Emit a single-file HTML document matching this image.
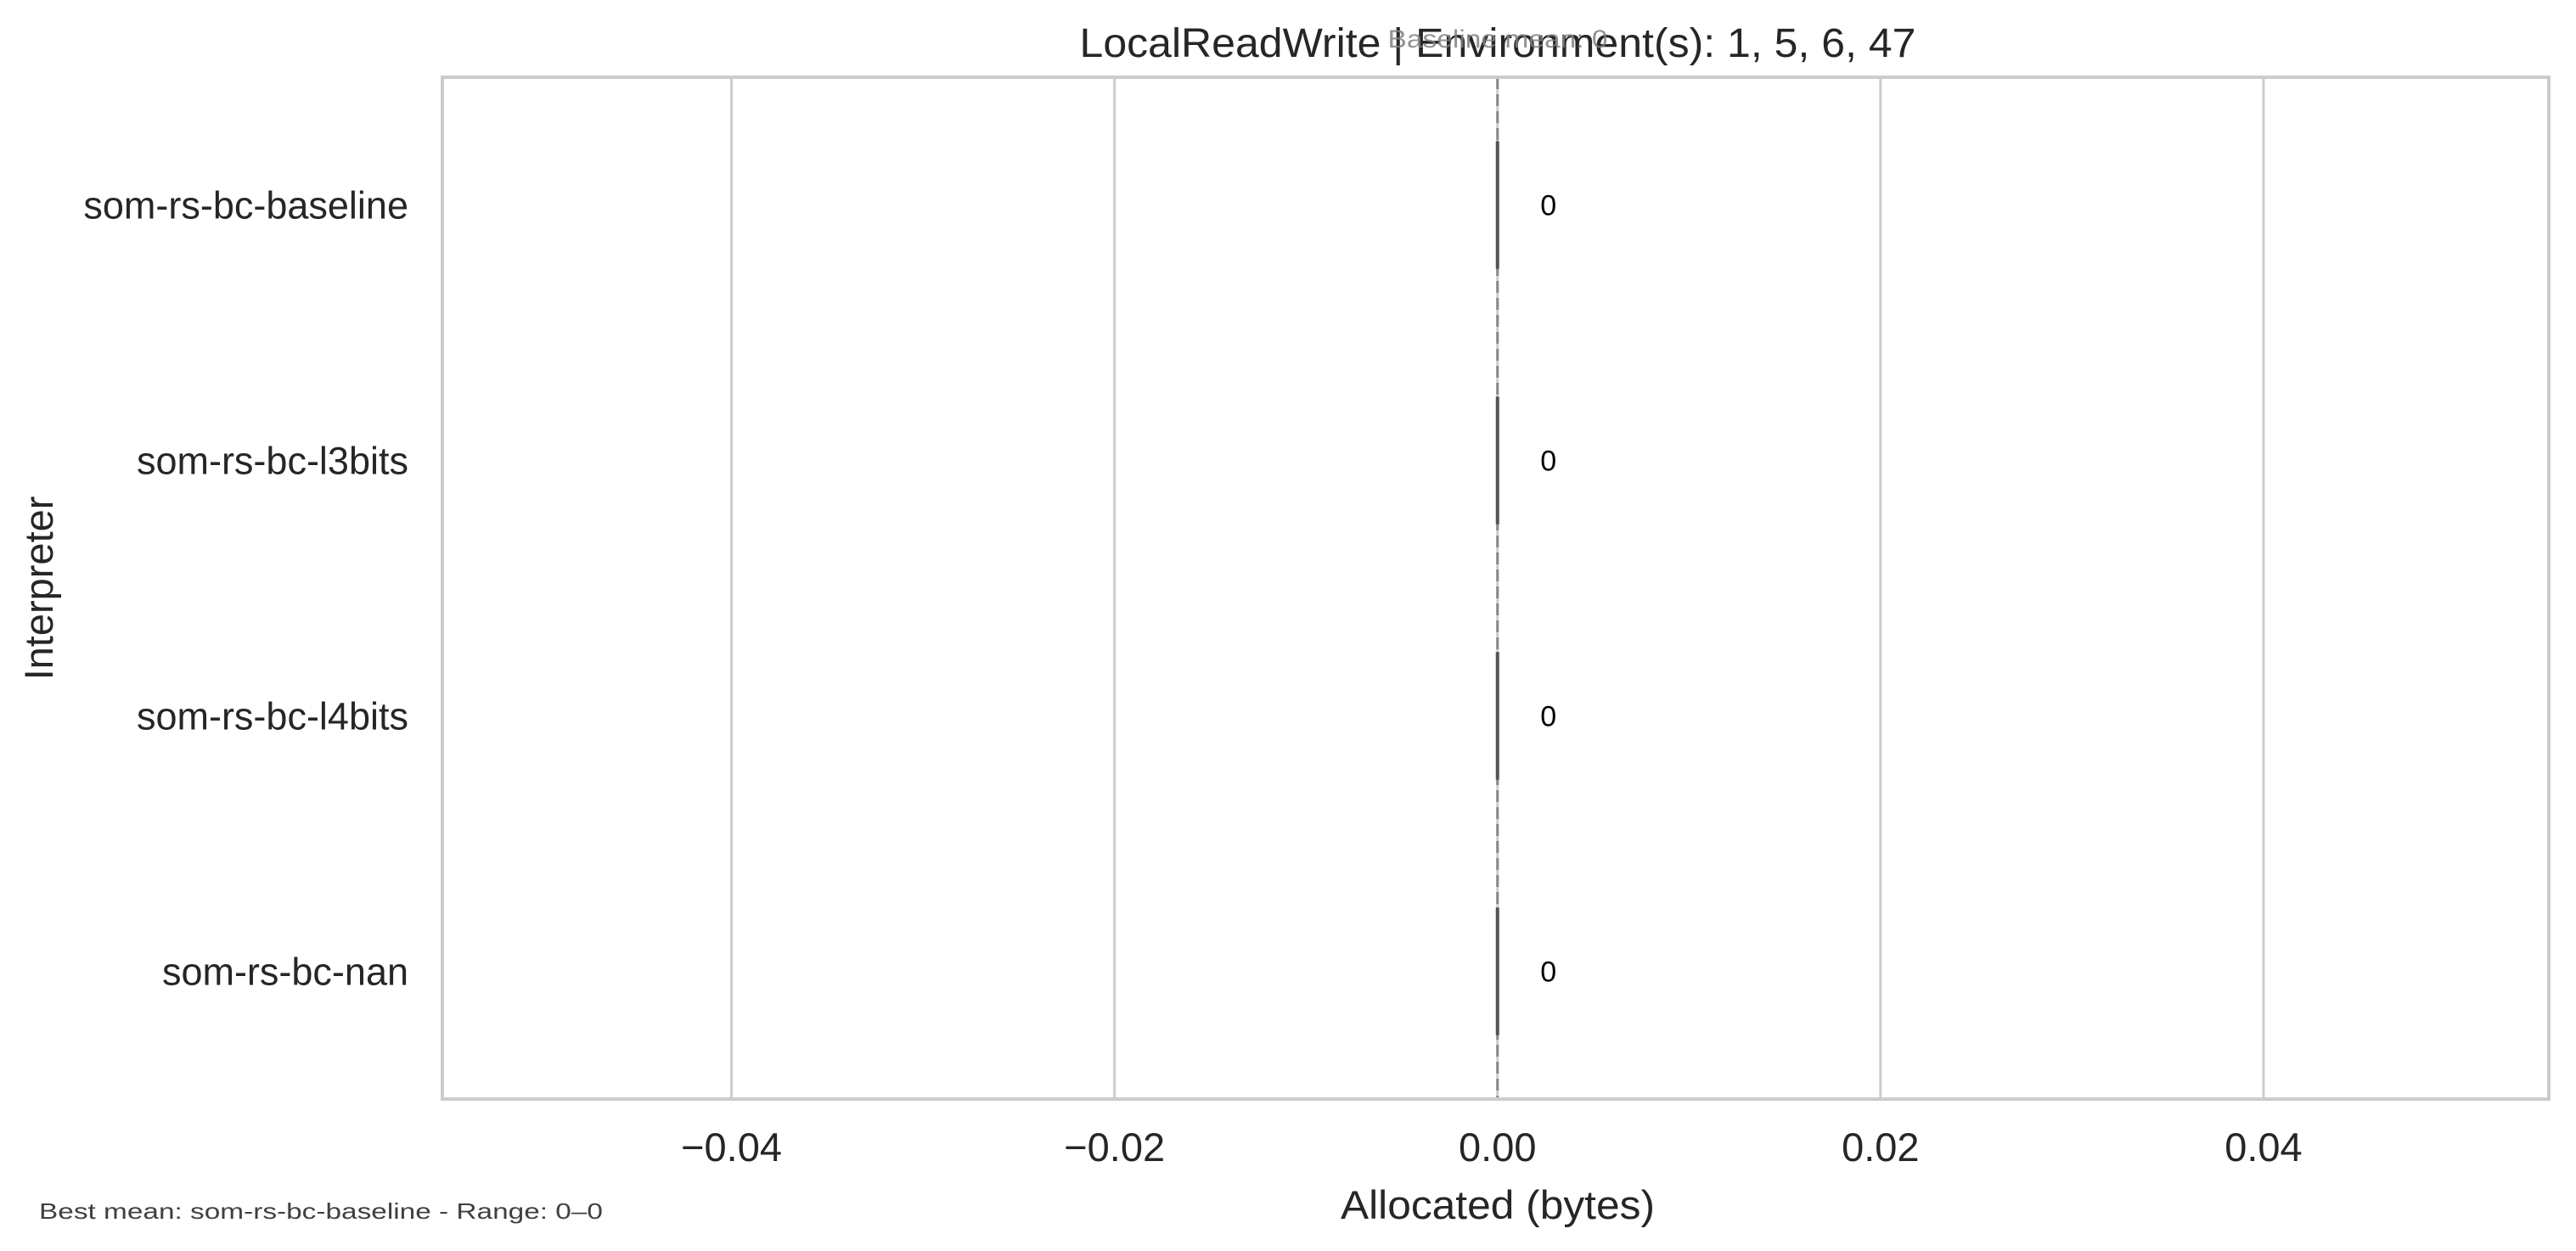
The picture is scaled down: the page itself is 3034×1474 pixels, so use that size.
<!DOCTYPE html>
<html><head><meta charset="utf-8"><style>
html,body{margin:0;padding:0;background:#fff;}
svg{display:block;font-family:"Liberation Sans",Arial,sans-serif;}
</style></head><body>
<svg id="chart" width="3034" height="1474" viewBox="0 0 3034 1474">
<rect x="0" y="0" width="3034" height="1474" fill="#fff"/>
<g id="grid"></g>
<g id="marks"></g>
<rect x="521" y="91" width="2481" height="1204" fill="none" stroke="#cccccc" stroke-width="4"/>
<g id="axes"></g>
<text x="1764" y="67" font-size="48" fill="#262626" text-anchor="middle" textLength="985" lengthAdjust="spacingAndGlyphs">LocalReadWrite | Environment(s): 1, 5, 6, 47</text>
<text x="1764" y="56" font-size="30" fill="#808080" fill-opacity="0.85" text-anchor="middle" textLength="259" lengthAdjust="spacingAndGlyphs">Baseline mean: 0</text>
<text x="1764" y="1436" font-size="47" fill="#262626" text-anchor="middle" textLength="370" lengthAdjust="spacingAndGlyphs">Allocated (bytes)</text>
<text transform="translate(62,693) rotate(-90)" font-size="47" fill="#262626" text-anchor="middle">Interpreter</text>
<text x="46" y="1436" font-size="26" fill="#404040" textLength="664" lengthAdjust="spacingAndGlyphs">Best mean: som-rs-bc-baseline - Range: 0–0</text>
</svg>
<script>
const categories = ["som-rs-bc-baseline","som-rs-bc-l3bits","som-rs-bc-l4bits","som-rs-bc-nan"];
const values = [0, 0, 0, 0];
const valueLabels = ["0","0","0","0"];
const xTicks = [-0.04, -0.02, 0.00, 0.02, 0.04];
const xTickLabels = ["\u22120.04","\u22120.02","0.00","0.02","0.04"];
const baselineMean = 0;

const NS = "http://www.w3.org/2000/svg";
const L = 521, R = 3002, T = 91, B = 1295;
const xMin = -0.0551, xMax = 0.0549;
function xs(v){ return L + (v - xMin) / (xMax - xMin) * (R - L); }
const band = (B - T) / categories.length;
function yc(i){ return T + band * (i + 0.5); }
function mk(tag, attrs, parent){ const e = document.createElementNS(NS, tag); for (const k in attrs) e.setAttribute(k, attrs[k]); parent.appendChild(e); return e; }
const grid = document.getElementById('grid'), marks = document.getElementById('marks'), axes = document.getElementById('axes');

xTicks.forEach((t, i) => {
  const ln = mk('line', {x1: xs(t), x2: xs(t), y1: T, y2: B, stroke: '#cccccc', 'stroke-width': 3}, grid);
  
  
  const tx = mk('text', {x: xs(t), y: 1368, 'font-size': 47, fill: '#262626', 'text-anchor': 'middle'}, axes);
  tx.textContent = xTickLabels[i];
  
  
});

const zl = mk('line', {x1: xs(baselineMean), x2: xs(baselineMean), y1: T, y2: B, stroke: '#888888', 'stroke-width': 3, 'stroke-dasharray': '14,6'}, grid);



categories.forEach((c, i) => {
  const y = yc(i);
  const x0 = xs(0), x1 = xs(values[i]);
  const bar = mk('rect', {x: Math.min(x0, x1) - 2, y: y - band * 0.25, width: Math.abs(x1 - x0) + 4, height: band * 0.5, fill: '#555555'}, marks);
  
  
  const vl = mk('text', {x: Math.max(x0, x1) + 60, y: y + 12, 'font-size': 34, fill: '#000', 'text-anchor': 'middle'}, marks);
  vl.textContent = valueLabels[i];
  
  
  const yl = mk('text', {x: 481, y: y + 16, 'font-size': 45, fill: '#262626', 'text-anchor': 'end'}, axes);
  yl.textContent = c;
  
  
});
</script>
</body></html>
